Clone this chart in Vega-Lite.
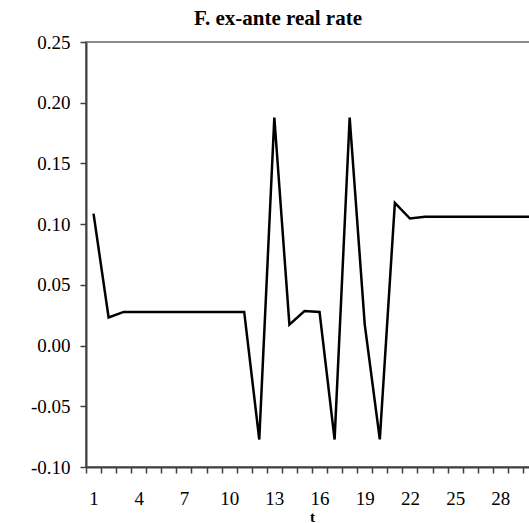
{
  "$schema": "https://vega.github.io/schema/vega-lite/v6.json",
  "autosize": "none",
  "width": 452,
  "height": 425,
  "padding": {"left": 86, "top": 42, "right": -9, "bottom": 56},
  "background": "white",
  "config": {
    "locale": {"number": {"decimal": ".", "thousands": ",", "grouping": [3], "currency": ["$", ""], "minus": "-"}},
    "view": {"stroke": "#8c8c8c", "strokeWidth": 2},
    "axis": {
      "labelFont": "Liberation Serif",
      "labelFontSize": 19,
      "labelColor": "black",
      "titleFont": "Liberation Serif",
      "titleColor": "black",
      "grid": false,
      "domainColor": "#404040",
      "domainWidth": 2,
      "tickColor": "#404040",
      "tickWidth": 1.5,
      "tickSize": 6
    }
  },
  "title": {
    "text": "F. ex-ante real rate",
    "font": "Liberation Serif",
    "fontSize": 21,
    "fontWeight": "bold",
    "color": "black",
    "anchor": "middle",
    "frame": "group",
    "baseline": "top",
    "offset": 4,
    "dx": -34
  },
  "data": {
    "values": [
      {"t": 1, "rate": 0.1087},
      {"t": 2, "rate": 0.0231},
      {"t": 3, "rate": 0.0277},
      {"t": 4, "rate": 0.0277},
      {"t": 5, "rate": 0.0277},
      {"t": 6, "rate": 0.0277},
      {"t": 7, "rate": 0.0277},
      {"t": 8, "rate": 0.0277},
      {"t": 9, "rate": 0.0277},
      {"t": 10, "rate": 0.0277},
      {"t": 11, "rate": 0.0277},
      {"t": 12, "rate": -0.0774},
      {"t": 13, "rate": 0.1878},
      {"t": 14, "rate": 0.0173},
      {"t": 15, "rate": 0.0285},
      {"t": 16, "rate": 0.0277},
      {"t": 17, "rate": -0.0774},
      {"t": 18, "rate": 0.1878},
      {"t": 19, "rate": 0.0175},
      {"t": 20, "rate": -0.0772},
      {"t": 21, "rate": 0.1175},
      {"t": 22, "rate": 0.1046},
      {"t": 23, "rate": 0.106},
      {"t": 24, "rate": 0.106},
      {"t": 25, "rate": 0.106},
      {"t": 26, "rate": 0.106},
      {"t": 27, "rate": 0.106},
      {"t": 28, "rate": 0.106},
      {"t": 29, "rate": 0.106},
      {"t": 30, "rate": 0.106}
    ]
  },
  "mark": {"type": "line", "color": "black", "strokeWidth": 2.5, "strokeJoin": "miter"},
  "encoding": {
    "x": {
      "field": "t",
      "type": "quantitative",
      "scale": {"domain": [0.5, 30.5], "nice": false, "zero": false},
      "axis": {
        "title": "t",
        "titleFontSize": 15,
        "titleFontWeight": "bold",
        "titlePadding": 1,
        "values": [0.5, 1, 1.5, 2.5, 3.5, 4, 4.5, 5.5, 6.5, 7, 7.5, 8.5, 9.5, 10, 10.5, 11.5, 12.5, 13, 13.5, 14.5, 15.5, 16, 16.5, 17.5, 18.5, 19, 19.5, 20.5, 21.5, 22, 22.5, 23.5, 24.5, 25, 25.5, 26.5, 27.5, 28, 28.5, 29.5, 30.5],
        "labelExpr": "datum.value % 1 === 0 ? format(datum.value, 'd') : ''",
        "labelOverlap": false,
        "labelFlush": false,
        "labelBound": false,
        "labelPadding": 16,
        "tickOpacity": {"condition": {"test": "datum.value % 1 === 0", "value": 0}, "value": 1}
      }
    },
    "y": {
      "field": "rate",
      "type": "quantitative",
      "scale": {"domain": [-0.1, 0.25], "nice": false, "zero": false},
      "axis": {
        "title": null,
        "values": [-0.1, -0.05, 0, 0.05, 0.1, 0.15, 0.2, 0.25],
        "format": ".2f",
        "labelPadding": 10,
        "tickSize": 6
      }
    }
  }
}
